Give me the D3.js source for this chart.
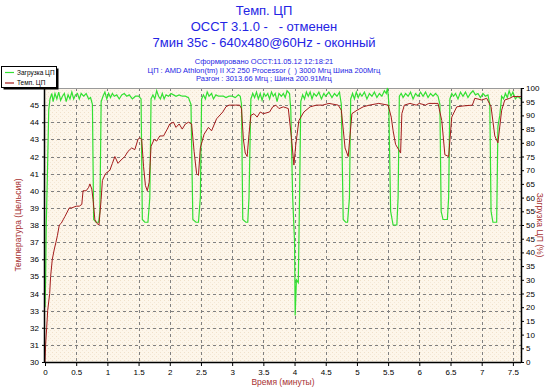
<!DOCTYPE html>
<html lang="ru">
<head>
    <meta charset="UTF-8">
    <title>Темп. ЦП</title>
    <style>
        body { margin: 0; background: #fff; }
        svg { display: block; }
        svg text { white-space: pre; }
    </style>
    <script src="https://d3js.org/d3.v7.min.js"></script>
</head>
<body>
    <script>
        const W = 550;
        const H = 391;
        const PLOT_LEFT = 45;
        const PLOT_RIGHT = 521;
        const PLOT_TOP = 88;
        const PLOT_BOTTOM = 362;

        const titleLines = ["Темп. ЦП", "OCCT 3.1.0 -   - отменен", "7мин 35с - 640x480@60Hz - оконный"];
        const infoLines = [
            "Сформировано OCCT:11.05.12 12:18:21",
            "ЦП : AMD Athlon(tm) II X2 250 Processor (  ) 3000 Мгц Шина 200Мгц",
            "Разгон : 3013.66 Мгц ; Шина 200.91Мгц"
        ];
        const legendNames = ["Загрузка ЦП", "Темп. ЦП"];

        const xTicks = [0, 0.5, 1, 1.5, 2, 2.5, 3, 3.5, 4, 4.5, 5, 5.5, 6, 6.5, 7, 7.5];
        const tempTicks = [30, 31, 32, 33, 34, 35, 36, 37, 38, 39, 40, 41, 42, 43, 44, 45];
        const loadTicks = [0, 5, 10, 15, 20, 25, 30, 35, 40, 45, 50, 55, 60, 65, 70, 75, 80, 85, 90, 95, 100];

        // temperature, minutes -> °C
        const tempTime = [0, 0.01, 0.027, 0.043, 0.075, 0.09, 0.117, 0.15, 0.176, 0.2, 0.229, 0.26, 0.29, 0.32, 0.348,
            0.39, 0.43, 0.5, 0.55, 0.59, 0.61, 0.66, 0.7, 0.72, 0.75, 0.77, 0.8, 0.83, 0.865, 0.9, 0.92, 0.97,
            1.04, 1.08, 1.12, 1.17, 1.22, 1.28, 1.33, 1.39, 1.44, 1.49, 1.52, 1.55, 1.58, 1.61, 1.64, 1.67, 1.7,
            1.75, 1.79, 1.84, 1.9, 1.96, 2, 2.06, 2.1, 2.15, 2.2, 2.25, 2.3, 2.35, 2.39, 2.43, 2.46, 2.49, 2.55,
            2.62, 2.67, 2.75, 2.85, 2.9, 2.95, 3.05, 3.12, 3.15, 3.18, 3.21, 3.24, 3.27, 3.3, 3.35, 3.4, 3.45,
            3.5, 3.6, 3.65, 3.7, 3.75, 3.82, 3.9, 3.95, 3.99, 4.02, 4.07, 4.15, 4.25, 4.35, 4.45, 4.55, 4.7,
            4.75, 4.81, 4.86, 4.92, 5, 5.1, 5.2, 5.35, 5.5, 5.55, 5.58, 5.62, 5.67, 5.7, 5.72, 5.76, 5.85, 5.95,
            6, 6.1, 6.15, 6.3, 6.36, 6.41, 6.47, 6.52, 6.6, 6.7, 6.85, 6.89, 7, 7.08, 7.15, 7.21, 7.26, 7.32,
            7.37, 7.45, 7.5, 7.63];
        const tempValues = [30, 31, 32, 33, 34, 35, 36, 36.6, 37, 37.4, 38, 38.1, 38.3, 38.5, 38.7,
            39, 39, 39.1, 39.1, 39.2, 40, 40, 40.2, 40.4, 40.1, 39.5, 38.3, 38.1, 38, 39.5, 40.6, 41,
            41.2, 41.6, 42, 41.6, 41.8, 42, 42.3, 42.5, 42.4, 43, 43.1, 43, 41.4, 40.3, 40, 40.5, 42.6,
            43, 42.9, 43.2, 43.2, 43.6, 43.9, 44, 43.7, 43.9, 43.6, 43.9, 44, 43.9, 42.3, 41, 40.9, 42.5, 43.3,
            43.7, 43.5, 44.2, 44.6, 44.9, 45, 45, 45, 44.8, 43, 42.2, 42, 43.3, 44.4, 44.5, 44.3, 44.6,
            44.5, 44.6, 44.9, 45, 44.8, 44.9, 44.8, 43.1, 41.5, 42.7, 44.1, 44.6, 44.9, 45, 45, 45.1, 45,
            44.7, 42.5, 42, 44.5, 44.7, 44.9, 45, 45.1, 45, 44.3, 43.5, 42.7, 42.4, 42.2, 44.5, 45, 45.1, 45,
            45.1, 45, 45.1, 45.1, 44.1, 42.1, 42, 44.3, 44.9, 44.95, 45, 45.4, 45.3, 45.4, 44.9, 43.2, 42.8, 44.7,
            45.3, 45.4, 45.5, 45.5];

        // CPU load, minutes -> %
        const loadTime = [0, 0.01, 0.02, 0.04, 0.06, 0.08, 0.11, 0.13, 0.16, 0.19, 0.22, 0.25, 0.28, 0.31, 0.34,
            0.37, 0.4, 0.43, 0.46, 0.49, 0.52, 0.55, 0.58, 0.62, 0.66, 0.7, 0.73, 0.76, 0.78, 0.82, 0.86, 0.88,
            0.9, 0.93, 0.96, 0.99, 1.02, 1.05, 1.08, 1.11, 1.15, 1.19, 1.23, 1.27, 1.31, 1.35, 1.4, 1.45, 1.5,
            1.54, 1.56, 1.6, 1.65, 1.68, 1.7, 1.73, 1.76, 1.79, 1.82, 1.85, 1.88, 1.91, 1.94, 1.98, 2.02, 2.06,
            2.1, 2.15, 2.2, 2.25, 2.3, 2.34, 2.37, 2.42, 2.46, 2.49, 2.51, 2.54, 2.57, 2.6, 2.63, 2.67, 2.7,
            2.74, 2.78, 2.82, 2.86, 2.9, 2.95, 3, 3.05, 3.1, 3.13, 3.15, 3.17, 3.22, 3.25, 3.27, 3.3, 3.33,
            3.36, 3.39, 3.42, 3.45, 3.48, 3.51, 3.54, 3.57, 3.6, 3.63, 3.66, 3.69, 3.72, 3.75, 3.79, 3.82,
            3.85, 3.88, 3.92, 3.94, 3.97, 4, 4.01, 4.03, 4.06, 4.08, 4.1, 4.13, 4.16, 4.19, 4.22, 4.25, 4.28,
            4.31, 4.35, 4.39, 4.43, 4.47, 4.5, 4.55, 4.6, 4.64, 4.68, 4.72, 4.75, 4.78, 4.82, 4.85, 4.88, 4.9,
            4.93, 4.96, 4.99, 5.02, 5.05, 5.08, 5.12, 5.16, 5.2, 5.24, 5.28, 5.32, 5.36, 5.4, 5.44, 5.47, 5.49,
            5.51, 5.54, 5.58, 5.64, 5.66, 5.68, 5.71, 5.74, 5.78, 5.82, 5.86, 5.9, 5.94, 5.98, 6.02, 6.06, 6.1,
            6.14, 6.18, 6.22, 6.26, 6.3, 6.33, 6.35, 6.38, 6.45, 6.47, 6.49, 6.52, 6.55, 6.58, 6.62, 6.66, 6.7,
            6.74, 6.78, 6.82, 6.86, 6.9, 6.94, 6.98, 7.02, 7.06, 7.1, 7.13, 7.15, 7.18, 7.24, 7.26, 7.29, 7.32,
            7.35, 7.38, 7.41, 7.44, 7.47, 7.5, 7.54, 7.58, 7.63];
        const loadValues = [20, 30, 50, 70, 92, 96, 98, 95, 98, 96, 98.5, 95.5, 97, 98, 95,
            97.5, 96, 98.5, 96, 97.5, 98, 96, 98, 97, 98, 96, 96.5, 94, 52, 51, 51, 55,
            95, 97, 98.5, 96, 98, 96.5, 98, 97, 97.5, 96, 97.5, 98, 97, 97.5, 96, 97, 97,
            96, 52, 51, 51, 60, 96, 97.5, 96, 99, 97, 96, 98, 96, 97.5, 97, 98, 97.5,
            97, 97.5, 97, 97, 96.5, 94, 52, 51, 51, 60, 96, 97.5, 96, 98.5, 97, 98, 96,
            97.5, 97, 97, 97, 96.5, 97, 97, 96.5, 97.5, 97, 94, 52, 51, 51, 60, 96, 98,
            96.5, 98.5, 96, 98, 95.5, 98, 97, 98, 96, 98.5, 97, 98, 95, 98, 97, 98,
            96.5, 99, 98, 92, 60, 44, 17, 30, 29, 60, 95, 97.5, 96, 98.5, 97, 98.5, 96,
            98, 97, 98.5, 96, 98, 97, 98.5, 96.5, 98, 97, 98.5, 94, 52, 51, 51, 60, 96,
            98, 96, 98.5, 96.5, 98, 97, 98.5, 96, 98, 97, 98.5, 96.5, 98, 97, 99, 98, 100,
            95, 55, 50, 50, 60, 97, 98, 96.5, 98, 97, 98.5, 96, 98, 97, 98.5, 97, 98.5,
            96.5, 98, 97, 98, 97, 94, 55, 52, 52, 60, 96, 98, 97, 98, 96, 98.5, 97,
            98.5, 96.5, 98, 99, 97.5, 98, 96.5, 98, 97, 97.5, 94, 55, 51, 51, 86, 90, 97,
            96, 98, 96.5, 99, 97, 98.5, 96, 97, 96];

        const TITLE_COLOR = "#2424e4";
        const AXIS_TITLE_COLOR = "#a83232";
        const LOAD_COLOR = "#33e033";
        const TEMP_COLOR = "#a31c1c";
        const FONT = "'Liberation Sans', Arial, sans-serif";

        const svg = d3.select("body").append("svg")
            .attr("width", W)
            .attr("height", H)
            .style("font-family", FONT);

        const x = d3.scaleLinear().domain([0, 7.63]).range([PLOT_LEFT, PLOT_RIGHT]);
        const yTemp = d3.scaleLinear().domain([30, 46]).range([PLOT_BOTTOM, PLOT_TOP]);
        const yLoad = d3.scaleLinear().domain([0, 100]).range([PLOT_BOTTOM, PLOT_TOP]);

        // dotted beige background
        const defs = svg.append("defs");
        const pat = defs.append("pattern")
            .attr("id", "sand")
            .attr("width", 4)
            .attr("height", 4)
            .attr("patternUnits", "userSpaceOnUse");
        pat.append("rect").attr("width", 4).attr("height", 4).attr("fill", "#fdf6ea");
        pat.append("rect").attr("x", 0).attr("y", 0).attr("width", 1).attr("height", 1).attr("fill", "#f0e1ca");
        pat.append("rect").attr("x", 2).attr("y", 2).attr("width", 1).attr("height", 1).attr("fill", "#f4e8d6");

        defs.append("clipPath").attr("id", "plotClip")
            .append("rect")
            .attr("x", PLOT_LEFT)
            .attr("y", PLOT_TOP - 1)
            .attr("width", PLOT_RIGHT - PLOT_LEFT)
            .attr("height", PLOT_BOTTOM - PLOT_TOP + 1);

        svg.append("rect")
            .attr("x", PLOT_LEFT)
            .attr("y", PLOT_TOP)
            .attr("width", PLOT_RIGHT - PLOT_LEFT)
            .attr("height", PLOT_BOTTOM - PLOT_TOP)
            .attr("fill", "url(#sand)");

        // grid
        svg.append("g").selectAll("line")
            .data(xTicks.filter(d => d > 0))
            .enter().append("line")
            .attr("x1", d => Math.round(x(d)) + 0.5)
            .attr("x2", d => Math.round(x(d)) + 0.5)
            .attr("y1", PLOT_TOP)
            .attr("y2", PLOT_BOTTOM)
            .attr("stroke", "#808080")
            .attr("stroke-dasharray", "3,3");

        svg.append("g").selectAll("line")
            .data(tempTicks.filter(d => d > 30))
            .enter().append("line")
            .attr("x1", PLOT_LEFT)
            .attr("x2", PLOT_RIGHT)
            .attr("y1", d => Math.round(yTemp(d)) + 0.5)
            .attr("y2", d => Math.round(yTemp(d)) + 0.5)
            .attr("stroke", "#808080")
            .attr("stroke-dasharray", "3,3");

        svg.append("line")
            .attr("x1", PLOT_LEFT).attr("x2", PLOT_RIGHT)
            .attr("y1", PLOT_TOP + 0.5).attr("y2", PLOT_TOP + 0.5)
            .attr("stroke", "#9a9a9a");

        // series
        const loadData = loadTime.map((t, i) => [t, loadValues[i]]);
        const tempData = tempTime.map((t, i) => [t, tempValues[i]]);

        const plot = svg.append("g").attr("clip-path", "url(#plotClip)");

        plot.append("path")
            .datum(loadData)
            .attr("fill", "none")
            .attr("stroke", LOAD_COLOR)
            .attr("stroke-width", 1.2)
            .attr("d", d3.line().x(d => x(d[0])).y(d => yLoad(d[1])));

        plot.append("path")
            .datum(tempData)
            .attr("fill", "none")
            .attr("stroke", TEMP_COLOR)
            .attr("stroke-width", 1)
            .attr("d", d3.line().x(d => x(d[0])).y(d => yTemp(d[1])));

        // axes
        const axisFont = g => g.selectAll("text")
            .attr("font-family", FONT)
            .attr("font-size", "8px")
            .attr("fill", "#000");

        svg.append("g")
            .attr("transform", `translate(0,${PLOT_BOTTOM})`)
            .call(d3.axisBottom(x).tickValues(xTicks).tickSize(4).tickPadding(3).tickFormat(d3.format("")))
            .call(g => g.select(".domain").attr("d", `M${PLOT_LEFT},0.5H${PLOT_RIGHT}`).attr("stroke-width", 1.5))
            .call(axisFont);

        svg.append("g")
            .attr("transform", `translate(${PLOT_LEFT},0)`)
            .call(d3.axisLeft(yTemp).tickValues(tempTicks).tickSize(3).tickPadding(3))
            .call(g => g.select(".domain").attr("d", `M-0.5,${PLOT_TOP}V${PLOT_BOTTOM}`).attr("stroke-width", 1.5))
            .call(axisFont);

        svg.append("g")
            .attr("transform", `translate(${PLOT_RIGHT},0)`)
            .call(d3.axisRight(yLoad).tickValues(loadTicks).tickSize(3).tickPadding(2))
            .call(g => g.select(".domain").attr("d", `M0.5,${PLOT_TOP}V${PLOT_BOTTOM}`).attr("stroke-width", 1.5))
            .call(axisFont);

        // axis titles
        svg.append("text")
            .attr("x", (PLOT_LEFT + PLOT_RIGHT) / 2)
            .attr("y", 385)
            .attr("text-anchor", "middle")
            .attr("font-size", "8.5px")
            .attr("fill", AXIS_TITLE_COLOR)
            .text("Время (минуты)");

        svg.append("text")
            .attr("transform", `translate(21,${(PLOT_TOP + PLOT_BOTTOM) / 2}) rotate(-90)`)
            .attr("text-anchor", "middle")
            .attr("font-size", "8.5px")
            .attr("fill", AXIS_TITLE_COLOR)
            .text("Температура (Цельсия)");

        svg.append("text")
            .attr("transform", `translate(537,${(PLOT_TOP + PLOT_BOTTOM) / 2}) rotate(90)`)
            .attr("text-anchor", "middle")
            .attr("font-size", "8.5px")
            .attr("fill", AXIS_TITLE_COLOR)
            .text("Загрузка ЦП (%)");

        // titles
        svg.append("g").selectAll("text")
            .data(titleLines)
            .enter().append("text")
            .attr("x", 264)
            .attr("y", (d, i) => 15 + i * 16)
            .attr("text-anchor", "middle")
            .attr("font-size", "13px")
            .attr("fill", TITLE_COLOR)
            .text(d => d);

        svg.append("g").selectAll("text")
            .data(infoLines)
            .enter().append("text")
            .attr("x", 264)
            .attr("y", (d, i) => 64 + i * 8.5)
            .attr("text-anchor", "middle")
            .attr("font-size", "7.5px")
            .attr("fill", TITLE_COLOR)
            .text(d => d);

        // legend
        const legend = svg.append("g");
        legend.append("rect")
            .attr("x", 3.5).attr("y", 68.5)
            .attr("width", 55).attr("height", 21)
            .attr("fill", "#000");
        legend.append("rect")
            .attr("x", 1.5).attr("y", 66.5)
            .attr("width", 55).attr("height", 21)
            .attr("fill", "#fff")
            .attr("stroke", "#000");

        const legendColors = [LOAD_COLOR, TEMP_COLOR];
        legendNames.forEach((name, i) => {
            const ly = 72.5 + i * 10.5;
            legend.append("line")
                .attr("x1", 5).attr("x2", 14)
                .attr("y1", ly).attr("y2", ly)
                .attr("stroke", legendColors[i])
                .attr("stroke-width", 1.2);
            legend.append("text")
                .attr("x", 17).attr("y", ly + 2.3)
                .attr("font-size", "6.5px")
                .attr("fill", "#000")
                .text(name);
        });
    </script>
</body>
</html>
